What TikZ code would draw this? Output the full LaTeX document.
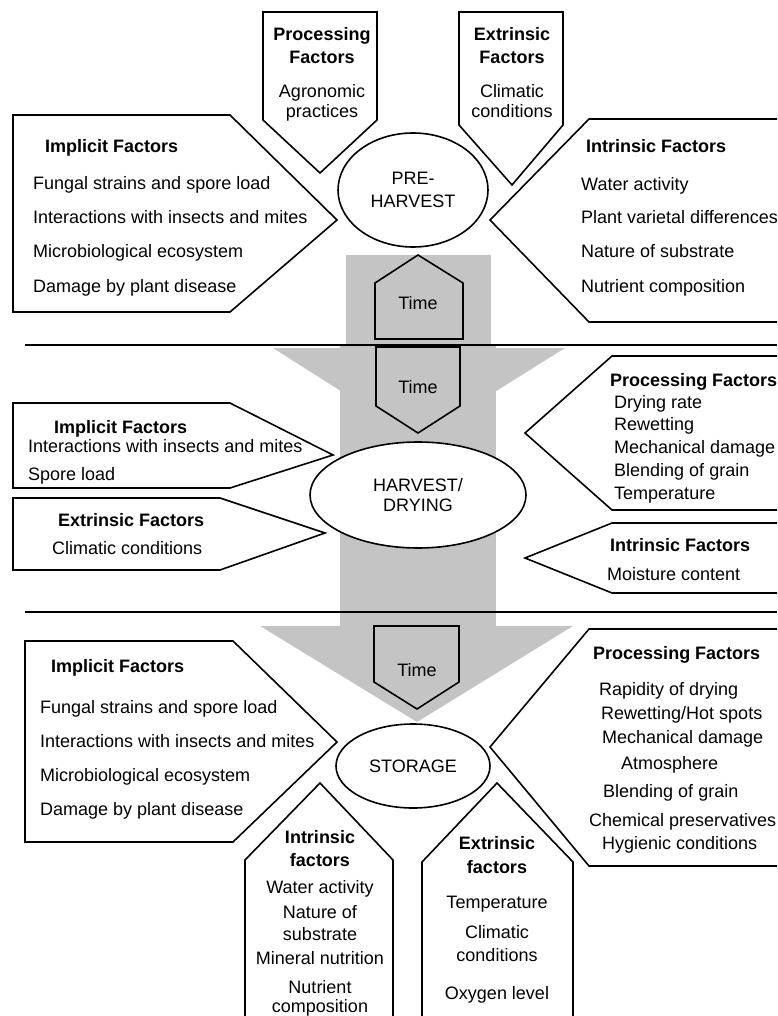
\documentclass[tikz,border=0pt]{standalone}
\usepackage{fontspec}
\setmainfont{Liberation Sans}
\usetikzlibrary{shapes.geometric}
\definecolor{flowgray}{RGB}{196,196,196}

\begin{document}
\begin{tikzpicture}[x=1pt,y=-1pt,
  every node/.style={font=\fontsize{18}{21}\selectfont,inner sep=0pt},
  box/.style={draw,line width=1.6pt,fill=white},
  timebox/.style={draw,line width=1.6pt,fill=flowgray},
  stage/.style={draw,ellipse,line width=1.6pt,fill=white,align=center},
  head/.style={font=\fontsize{18}{21}\selectfont\bfseries,anchor=base west},
  chead/.style={font=\fontsize{18}{21}\selectfont\bfseries,anchor=base},
  item/.style={anchor=base west},
  citem/.style={anchor=base},
  sep/.style={line width=1.6pt}]
\useasboundingbox (0,0) rectangle (777,1016);
\scope
\clip (0,0) rectangle (777,1016);
% grey flow
\fill[flowgray] (346,255) rectangle (491,346);
\fill[flowgray] (273,348) -- (565,348) -- (418,440) -- cycle;
\fill[flowgray] (340,346) rectangle (496,626);
\fill[flowgray] (260,626) -- (573,626) -- (417,722) -- cycle;
% separators
\draw[sep] (25,345) -- (777,345);
\draw[sep] (25,612) -- (777,612);

% pre-harvest
\draw[box] (263,12) -- (377,12) -- (377,120) -- (320,173) -- (263,120) -- cycle;
\node[chead] (pp1) at (322,41) {Processing};
\node[chead] (pp2) at (322,64) {Factors};
\node[citem] (pp3) at (322,98) {Agronomic};
\node[citem] (pp4) at (322,118) {practices};
\draw[box] (459,12) -- (563,12) -- (563,125) -- (512,185) -- (459,125) -- cycle;
\node[chead] (pe1) at (512,41) {Extrinsic};
\node[chead] (pe2) at (512,64) {Factors};
\node[citem] (pe3) at (512,98) {Climatic};
\node[citem] (pe4) at (512,118) {conditions};
\draw[box] (13,115) -- (230,115) -- (337,220) -- (230,312) -- (13,312) -- cycle;
\node[head] (pm0) at (45,153) {Implicit Factors};
\foreach \y/\t [count=\i] in {190/Fungal strains and spore load,
    224/Interactions with insects and mites,
    258/Microbiological ecosystem,
    292/Damage by plant disease}
  \node[item] (pm\i) at (33,\y) {\t};
\draw[box] (490,220) -- (589,119) -- (800,119) -- (800,322) -- (589,322) -- cycle;
\node[head] (pi0) at (586,153) {Intrinsic Factors};
\foreach \y/\t [count=\i] in {191/Water activity,
    224/Plant varietal differences,
    258/Nature of substrate,
    292/Nutrient composition}
  \node[item] (pi\i) at (581,\y) {\t};
\node[stage,minimum width=150,minimum height=114,
  font=\fontsize{18}{23}\selectfont] (pre) at (413,190) {PRE-\\HARVEST};
\draw[timebox] (375,339) -- (375,283) -- (418,255) -- (463,283) -- (463,339) -- cycle;
\node (t1) at (418,303) {Time};

% harvest / drying
\draw[timebox] (376,347) -- (460,347) -- (460,406) -- (418,433) -- (376,406) -- cycle;
\node (t2) at (418,387) {Time};
\draw[box] (13,403) -- (230,403) -- (333,455) -- (230,488) -- (13,488) -- cycle;
\node[head] (hm0) at (54,433) {Implicit Factors};
\node[item] (hm1) at (28,452) {Interactions with insects and mites};
\node[item] (hm2) at (28,480) {Spore load};
\draw[box] (13,498) -- (220,498) -- (325,533) -- (220,570) -- (13,570) -- cycle;
\node[head] (he0) at (58,526) {Extrinsic Factors};
\node[item] (he1) at (52,554) {Climatic conditions};
\node[stage,minimum width=216,minimum height=106,
  font=\fontsize{18}{20}\selectfont] (harv) at (418,495) {HARVEST/\\DRYING};
\draw[box] (525,433) -- (612,356) -- (800,356) -- (800,510) -- (612,510) -- cycle;
\node[head] (hp0) at (610,386) {Processing Factors};
\foreach \y/\t [count=\i] in {408/Drying rate,430/Rewetting,
    453/Mechanical damage,476/Blending of grain,499/Temperature}
  \node[item] (hp\i) at (614,\y) {\t};
\draw[box] (525,558) -- (612,523) -- (800,523) -- (800,593) -- (612,593) -- cycle;
\node[head] (hi0) at (610,551) {Intrinsic Factors};
\node[item] (hi1) at (607,580) {Moisture content};

% storage
\draw[timebox] (374,626) -- (459,626) -- (459,682) -- (417,709) -- (374,682) -- cycle;
\node (t3) at (417,670) {Time};
\draw[box] (25,641) -- (233,641) -- (337,742) -- (233,842) -- (25,842) -- cycle;
\node[head] (sm0) at (51,672) {Implicit Factors};
\foreach \y/\t [count=\i] in {713/Fungal strains and spore load,
    747/Interactions with insects and mites,
    781/Microbiological ecosystem,
    815/Damage by plant disease}
  \node[item] (sm\i) at (40,\y) {\t};
\draw[box] (490,747) -- (589,629) -- (800,629) -- (800,866) -- (589,866) -- cycle;
\node[head] (sp0) at (593,659) {Processing Factors};
\foreach \x/\y/\t [count=\i] in {599/695/Rapidity of drying,
    601/719/{Rewetting/Hot spots},
    602/743/Mechanical damage,
    621/769/Atmosphere,
    603/797/Blending of grain,
    589/826/Chemical preservatives,
    602/849/Hygienic conditions}
  \node[item] (sp\i) at (\x,\y) {\t};
\node[stage,minimum width=154,minimum height=84] (stor) at (413,766) {STORAGE};
\draw[box] (245,1030) -- (245,860) -- (320,783) -- (393,860) -- (393,1030) -- cycle;
\node[chead] (si1) at (320,843) {Intrinsic};
\node[chead] (si2) at (320,866) {factors};
\foreach \y/\t [count=\i from 3] in {893/Water activity,918/Nature of,
    940/substrate,964/Mineral nutrition,993/Nutrient,1012/composition}
  \node[citem] (si\i) at (320,\y) {\t};
\draw[box] (422,1030) -- (422,862) -- (497,783) -- (573,862) -- (573,1030) -- cycle;
\node[chead] (se1) at (497,849) {Extrinsic};
\node[chead] (se2) at (497,873) {factors};
\foreach \y/\t [count=\i from 3] in {908/Temperature,938/Climatic,
    961/conditions,999/Oxygen level}
  \node[citem] (se\i) at (497,\y) {\t};
\endscope
\end{tikzpicture}
\end{document}
